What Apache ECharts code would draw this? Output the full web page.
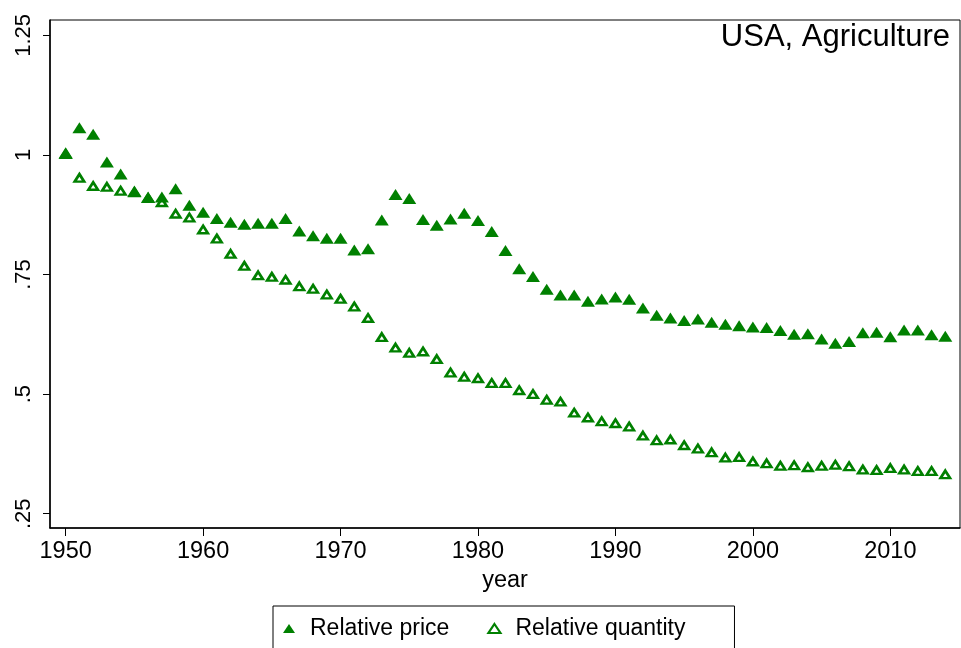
<!DOCTYPE html>
<html>
<head>
<meta charset="utf-8">
<script src="https://cdn.jsdelivr.net/npm/echarts@6/dist/echarts.min.js"></script>
<style>
  html, body { margin: 0; padding: 0; background: #fff; }
  #chart { width: 961px; height: 648px; }
</style>
</head>
<body>
<div id="chart"></div>
<script>
// Years covered by both series
const years = [
  1950, 1951, 1952, 1953, 1954, 1955, 1956, 1957, 1958, 1959,
  1960, 1961, 1962, 1963, 1964, 1965, 1966, 1967, 1968, 1969,
  1970, 1971, 1972, 1973, 1974, 1975, 1976, 1977, 1978, 1979,
  1980, 1981, 1982, 1983, 1984, 1985, 1986, 1987, 1988, 1989,
  1990, 1991, 1992, 1993, 1994, 1995, 1996, 1997, 1998, 1999,
  2000, 2001, 2002, 2003, 2004, 2005, 2006, 2007, 2008, 2009,
  2010, 2011, 2012, 2013, 2014
];

// Agriculture price relative to the economy (1950 = 1)
const relativePrice = [
  1.000, 1.054, 1.040, 0.982, 0.957, 0.920, 0.908, 0.909, 0.926, 0.892,
  0.877, 0.864, 0.856, 0.852, 0.854, 0.854, 0.864, 0.838, 0.828, 0.823,
  0.823, 0.798, 0.801, 0.861, 0.914, 0.906, 0.862, 0.850, 0.863, 0.875,
  0.860, 0.837, 0.797, 0.759, 0.743, 0.716, 0.704, 0.704, 0.691, 0.696,
  0.700, 0.695, 0.677, 0.662, 0.656, 0.651, 0.654, 0.647, 0.643, 0.640,
  0.637, 0.636, 0.630, 0.622, 0.623, 0.612, 0.603, 0.607, 0.625, 0.626,
  0.617, 0.631, 0.631, 0.621, 0.618
];

// Agriculture quantity relative to the economy (1950 = 1)
const relativeQuantity = [
  1.000, 0.949, 0.932, 0.930, 0.922, 0.920, 0.907, 0.898, 0.874, 0.866,
  0.841, 0.822, 0.790, 0.765, 0.745, 0.742, 0.736, 0.722, 0.717, 0.705,
  0.696, 0.680, 0.656, 0.616, 0.594, 0.583, 0.586, 0.570, 0.542, 0.533,
  0.530, 0.520, 0.520, 0.505, 0.497, 0.485, 0.481, 0.458, 0.448, 0.440,
  0.436, 0.429, 0.410, 0.400, 0.402, 0.390, 0.383, 0.375, 0.364, 0.365,
  0.356, 0.352, 0.347, 0.348, 0.344, 0.347, 0.349, 0.346, 0.339, 0.338,
  0.342, 0.339, 0.336, 0.336, 0.329
];

// Axis ticks
const xTicks = [1950, 1960, 1970, 1980, 1990, 2000, 2010];
const yTicks = [0.25, 0.5, 0.75, 1, 1.25];
const yTickLabels = ['.25', '.5', '.75', '1', '1.25'];

const GREEN = '#008000';
const FONT = '"Liberation Sans", Arial, Helvetica, sans-serif';

const pricePoints = years.map((y, i) => [y, relativePrice[i]]);
const quantityPoints = years.map((y, i) => [y, relativeQuantity[i]]);

const chart = echarts.init(document.getElementById('chart'), null, { renderer: 'canvas' });

chart.setOption({
  backgroundColor: '#fff',
  animation: false,
  textStyle: { fontFamily: FONT, color: '#000' },
  title: {
    text: 'USA, Agriculture',
    right: 11,
    top: 22,
    padding: 0,
    textStyle: { fontFamily: FONT, fontSize: 31, fontWeight: 'normal', color: '#000' }
  },
  grid: {
    left: 50, top: 20, width: 910, height: 508,
    show: true, borderColor: '#000', borderWidth: 1, backgroundColor: '#fff'
  },
  legend: {
    left: 273, top: 606,
    orient: 'horizontal',
    borderColor: '#000', borderWidth: 1,
    padding: [11, 49, 11, 10],
    itemWidth: 12, itemHeight: 9, itemGap: 38,
    symbolKeepAspect: false,
    textStyle: { fontFamily: FONT, fontSize: 23, color: '#000', padding: [0, 0, 0, 10] },
    data: [
      { name: 'Relative price', icon: 'triangle', itemStyle: { color: GREEN, borderWidth: 0 } },
      { name: 'Relative quantity', icon: 'triangle',
        itemStyle: { color: '#fff', borderColor: GREEN, borderWidth: 2.2 } }
    ]
  },
  xAxis: {
    type: 'value',
    min: 1948.86, max: 2015.07,
    name: 'year', nameLocation: 'middle', nameGap: 35,
    nameTextStyle: { fontFamily: FONT, fontSize: 23.5, color: '#000' },
    axisLine: { show: true, onZero: false, lineStyle: { color: '#000', width: 1.5 } },
    axisTick: { show: true, length: 8, customValues: xTicks, lineStyle: { color: '#000', width: 1 } },
    axisLabel: {
      customValues: xTicks, margin: 12, fontFamily: FONT, fontSize: 23.5, color: '#000',
      formatter: v => String(Math.round(v))
    },
    splitLine: { show: false }
  },
  yAxis: {
    type: 'value',
    min: 0.2201, max: 1.2822,
    axisLine: { show: true, onZero: false, lineStyle: { color: '#000', width: 1.5 } },
    axisTick: { show: true, length: 7, customValues: yTicks, lineStyle: { color: '#000', width: 1 } },
    axisLabel: {
      customValues: yTicks, rotate: 90, margin: 15,
      fontFamily: FONT, fontSize: 22, color: '#000',
      formatter: v => {
        const i = yTicks.findIndex(t => Math.abs(t - v) < 1e-9);
        return i >= 0 ? yTickLabels[i] : '';
      }
    },
    splitLine: { show: false }
  },
  series: [
    {
      name: 'Relative price',
      type: 'scatter',
      data: pricePoints,
      symbol: 'triangle',
      symbolSize: [14, 11],
      symbolOffset: [0, -1.5],
      itemStyle: { color: GREEN, opacity: 1 },
      z: 2
    },
    {
      name: 'Relative quantity',
      type: 'scatter',
      data: quantityPoints,
      symbol: 'triangle',
      symbolSize: [9.5, 7.5],
      symbolOffset: [0, -1.5],
      itemStyle: { color: 'rgba(255,255,255,0)', borderColor: GREEN, borderWidth: 2.6, opacity: 1 },
      z: 3
    }
  ]
});
</script>
</body>
</html>
